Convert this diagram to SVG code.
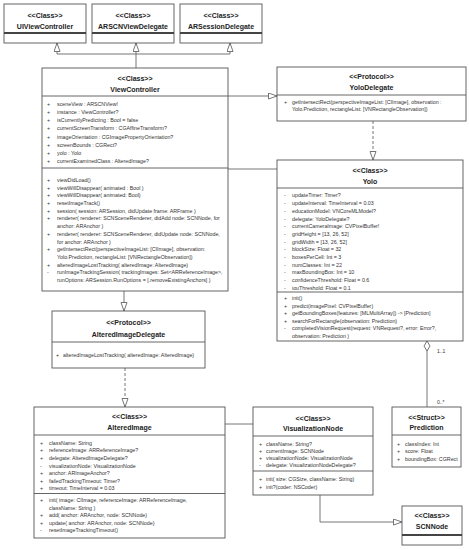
<svg xmlns="http://www.w3.org/2000/svg" width="469" height="550" viewBox="0 0 469 550">
<style>
.box{fill:#fff;stroke:#555;stroke-width:0.9}
.sep{stroke:#555;stroke-width:0.9}
.thick{stroke:#444;stroke-width:2}
.t{font-family:"Liberation Sans",Arial,sans-serif;font-size:7px;font-weight:bold;fill:#222;text-anchor:middle}
.b{font-family:"Liberation Sans",Arial,sans-serif;font-size:5.3px;fill:#333}
.lbl{font-family:"Liberation Sans",Arial,sans-serif;font-size:5px;fill:#333}
.c{fill:none;stroke:#666;stroke-width:0.9}
.d{stroke-dasharray:3 2}
</style>
<defs>
<marker id="tri" markerUnits="userSpaceOnUse" markerWidth="11" markerHeight="9" refX="9" refY="3.5" orient="auto"><path d="M0.5,0.5 L9,3.5 L0.5,6.5 z" fill="#fff" stroke="#666" stroke-width="0.9"/></marker>
<marker id="dia" markerUnits="userSpaceOnUse" markerWidth="13" markerHeight="8" refX="0.5" refY="3.5" orient="auto"><path d="M0.5,3.5 L5.5,0.5 L10.5,3.5 L5.5,6.5 z" fill="#fff" stroke="#666" stroke-width="0.9"/></marker>
</defs>

<g id="connectors">
<path class="c" d="M57,54 H230"/>
<path class="c" d="M136,68 V54"/>
<path class="c" d="M57,54 V43" marker-end="url(#tri)"/>
<path class="c" d="M136,54 V43" marker-end="url(#tri)"/>
<path class="c" d="M230,54 V43" marker-end="url(#tri)"/>
<path class="c" d="M228,96 H277" marker-end="url(#tri)"/>
<path class="c" d="M228,169 H277"/>
<path class="c d" d="M373,121 V160" marker-end="url(#tri)"/>
<path class="c" d="M124,291 V311" marker-end="url(#tri)"/>
<path class="c d" d="M125,368 V407" marker-end="url(#tri)"/>
<path class="c" d="M225,424 H253"/>
<path class="c" d="M427,341 V407" marker-start="url(#dia)"/>
<path class="c" d="M320,495 V522 H402" marker-end="url(#tri)"/>
<text class="lbl" x="437" y="353">1..1</text>
<text class="lbl" x="437" y="404">0..*</text>
</g>

<g id="UIViewController">
<rect class="box" x="4" y="4" width="82" height="39"/>
<line class="thick" x1="4" y1="33" x2="86" y2="33"/>
<text class="t" x="45" y="17.5">&lt;&lt;Class&gt;&gt;</text>
<text class="t" x="45" y="28.5">UIViewController</text>
</g>
<g id="ARSCNViewDelegate">
<rect class="box" x="92" y="4" width="82" height="39"/>
<line class="thick" x1="92" y1="33" x2="174" y2="33"/>
<text class="t" x="133" y="17.5">&lt;&lt;Class&gt;&gt;</text>
<text class="t" x="133" y="28.5">ARSCNViewDelegate</text>
</g>
<g id="ARSessionDelegate">
<rect class="box" x="180" y="4" width="82" height="39"/>
<line class="thick" x1="180" y1="33" x2="262" y2="33"/>
<text class="t" x="221" y="17.5">&lt;&lt;Class&gt;&gt;</text>
<text class="t" x="221" y="28.5">ARSessionDelegate</text>
</g>

<g id="ViewController">
<rect class="box" x="42" y="68" width="186" height="223"/>
<line class="sep" x1="42" y1="96" x2="228" y2="96"/>
<line class="sep" x1="42" y1="168" x2="228" y2="168"/>
<text class="t" x="135" y="80.5">&lt;&lt;Class&gt;&gt;</text>
<text class="t" x="135" y="91.5">ViewController</text>
<text class="b" x="47" y="106">+</text><text class="b" x="57" y="106">sceneView : ARSCNView!</text>
<text class="b" x="47" y="114.1">+</text><text class="b" x="57" y="114.1">instance : ViewController?</text>
<text class="b" x="47" y="122.2">+</text><text class="b" x="57" y="122.2">isCurrentlyPredicting : Bool = false</text>
<text class="b" x="47" y="130.3">+</text><text class="b" x="57" y="130.3">currentScreenTransform : CGAffineTransform?</text>
<text class="b" x="47" y="138.5">+</text><text class="b" x="57" y="138.5">imageOrientation : CGImagePropertyOrientation?</text>
<text class="b" x="47" y="146.6">+</text><text class="b" x="57" y="146.6">screenBounds : CGRect?</text>
<text class="b" x="47" y="154.8">+</text><text class="b" x="57" y="154.8">yolo : Yolo</text>
<text class="b" x="47" y="163">+</text><text class="b" x="57" y="163">currentExaminedClass : AlteredImage?</text>
<text class="b" x="47" y="181.9">+</text><text class="b" x="57" y="181.9">viewDidLoad()</text>
<text class="b" x="47" y="189.6">+</text><text class="b" x="57" y="189.6">viewWillDisappear( animated : Bool )</text>
<text class="b" x="47" y="197.3">+</text><text class="b" x="57" y="197.3">viewWillDisappear( animated: Bool)</text>
<text class="b" x="47" y="205">+</text><text class="b" x="57" y="205">resetImageTrack()</text>
<text class="b" x="47" y="212.7">+</text><text class="b" x="57" y="212.7">session( session: ARSession, didUpdate frame: ARFrame )</text>
<text class="b" x="47" y="220.4">+</text><text class="b" x="57" y="220.4">renderer( renderer: SCNSceneRenderer, didAdd node: SCNNode, for</text>
<text class="b" x="57" y="228.1">anchor: ARAnchor )</text>
<text class="b" x="47" y="235.8">+</text><text class="b" x="57" y="235.8">renderer( renderer: SCNSceneRenderer, didUpdate node: SCNNode,</text>
<text class="b" x="57" y="243.5">for anchor: ARAnchor )</text>
<text class="b" x="47" y="251.2">+</text><text class="b" x="57" y="251.2">getIntersectRect(perspectiveImageList: [CIImage], observation:</text>
<text class="b" x="57" y="258.9">Yolo.Prediction, rectangleList: [VNRectangleObservation])</text>
<text class="b" x="47" y="266.6">+</text><text class="b" x="57" y="266.6">alteredImageLostTracking( alteredImage: AlteredImage)</text>
<text class="b" x="47" y="274.3">-</text><text class="b" x="57" y="274.3">runImageTrackingSession( trackingImages: Set&lt;ARReferenceImage&gt;,</text>
<text class="b" x="57" y="282">runOptions:  ARSession.RunOptions = [.removeExistingAnchors] )</text>
</g>

<g id="YoloDelegate">
<rect class="box" x="277" y="67" width="189" height="54"/>
<line class="sep" x1="277" y1="95" x2="466" y2="95"/>
<text class="t" x="371.5" y="78.5">&lt;&lt;Protocol&gt;&gt;</text>
<text class="t" x="371.5" y="89.5">YoloDelegate</text>
<text class="b" x="284" y="104">+</text><text class="b" x="292" y="104">getIntersectRect(perspectiveImageList: [CIImage], observation :</text>
<text class="b" x="292" y="111.4">Yolo.Prediction, rectangleList: [VNRectangleObservation])</text>
</g>

<g id="Yolo">
<rect class="box" x="277" y="160" width="186" height="181"/>
<line class="sep" x1="277" y1="188" x2="463" y2="188"/>
<line class="sep" x1="277" y1="292" x2="463" y2="292"/>
<text class="t" x="370" y="172.5">&lt;&lt;Class&gt;&gt;</text>
<text class="t" x="370" y="183.5">Yolo</text>
<text class="b" x="284" y="197.4">-</text><text class="b" x="292" y="197.4">updateTimer: Timer?</text>
<text class="b" x="284" y="205.1">-</text><text class="b" x="292" y="205.1">updateInterval: TimeInterval = 0.03</text>
<text class="b" x="284" y="212.8">-</text><text class="b" x="292" y="212.8">educationModel: VNCoreMLModel?</text>
<text class="b" x="284" y="220.5">-</text><text class="b" x="292" y="220.5">delegate: YoloDelegate?</text>
<text class="b" x="284" y="228.2">-</text><text class="b" x="292" y="228.2">currentCameraImage: CVPixelBuffer!</text>
<text class="b" x="284" y="235.9">-</text><text class="b" x="292" y="235.9">gridHeight = [13, 26, 52]</text>
<text class="b" x="284" y="243.6">-</text><text class="b" x="292" y="243.6">gridWidth = [13, 26, 52]</text>
<text class="b" x="284" y="251.3">-</text><text class="b" x="292" y="251.3">blockSize: Float = 32</text>
<text class="b" x="284" y="259">-</text><text class="b" x="292" y="259">boxesPerCell: Int = 3</text>
<text class="b" x="284" y="266.7">-</text><text class="b" x="292" y="266.7">numClasses: Int = 22</text>
<text class="b" x="284" y="274.4">-</text><text class="b" x="292" y="274.4">maxBoundingBox: Int = 10</text>
<text class="b" x="284" y="282.1">-</text><text class="b" x="292" y="282.1">confidenceThreshold: Float = 0.6</text>
<text class="b" x="284" y="289.8">-</text><text class="b" x="292" y="289.8">iouThreshold: Float = 0.1</text>
<text class="b" x="284" y="300.4">+</text><text class="b" x="292" y="300.4">init()</text>
<text class="b" x="284" y="307.9">+</text><text class="b" x="292" y="307.9">predict(imagePixel: CVPixelBuffer)</text>
<text class="b" x="284" y="315.4">+</text><text class="b" x="292" y="315.4">getBoundingBoxes(features: [MLMultiArray]) -&gt; [Prediction]</text>
<text class="b" x="284" y="322.9">+</text><text class="b" x="292" y="322.9">searchForRectangle(observation: Prediction)</text>
<text class="b" x="284" y="330.4">-</text><text class="b" x="292" y="330.4">completedVisionRequest(request: VNRequest?, error: Error?,</text>
<text class="b" x="292" y="337.9">observation: Prediction )</text>
</g>

<g id="AlteredImageDelegate">
<rect class="box" x="52" y="311" width="153" height="57"/>
<line class="sep" x1="52" y1="342" x2="205" y2="342"/>
<text class="t" x="128.5" y="324.5">&lt;&lt;Protocol&gt;&gt;</text>
<text class="t" x="128.5" y="336.5">AlteredImageDelegate</text>
<text class="b" x="56" y="357">+</text><text class="b" x="63" y="357">alteredImageLostTracking( alteredImage: AlteredImage)</text>
</g>

<g id="AlteredImage">
<rect class="box" x="34" y="407" width="191" height="131"/>
<line class="sep" x1="34" y1="435" x2="225" y2="435"/>
<line class="sep" x1="34" y1="493.5" x2="225" y2="493.5"/>
<text class="t" x="129.5" y="418.5">&lt;&lt;Class&gt;&gt;</text>
<text class="t" x="129.5" y="429.5">AlteredImage</text>
<text class="b" x="40" y="444.9">+</text><text class="b" x="49" y="444.9">className: String</text>
<text class="b" x="40" y="452.4">+</text><text class="b" x="49" y="452.4">referenceImage: ARReferenceImage?</text>
<text class="b" x="40" y="460">+</text><text class="b" x="49" y="460">delegate: AlteredImageDelegate?</text>
<text class="b" x="40" y="467.5">-</text><text class="b" x="49" y="467.5">visualizationNode: VisualizationNode</text>
<text class="b" x="40" y="475.1">+</text><text class="b" x="49" y="475.1">anchor: ARImageAnchor?</text>
<text class="b" x="40" y="482.6">+</text><text class="b" x="49" y="482.6">failedTrackingTimeout: Timer?</text>
<text class="b" x="40" y="490.2">+</text><text class="b" x="49" y="490.2">timeout: TimeInterval = 0.03</text>
<text class="b" x="40" y="502.4">+</text><text class="b" x="49" y="502.4">init( image: CIImage, referenceImage: ARReferenceImage,</text>
<text class="b" x="49" y="509.9">className: String )</text>
<text class="b" x="40" y="517.4">+</text><text class="b" x="49" y="517.4">add( anchor: ARAnchor, node: SCNNode)</text>
<text class="b" x="40" y="524.9">+</text><text class="b" x="49" y="524.9">update( anchor: ARAnchor, node: SCNNode)</text>
<text class="b" x="40" y="532.4">-</text><text class="b" x="49" y="532.4">resetImageTrackingTimeout()</text>
</g>

<g id="VisualizationNode">
<rect class="box" x="253" y="407" width="120" height="88"/>
<line class="sep" x1="253" y1="436" x2="373" y2="436"/>
<line class="sep" x1="253" y1="471" x2="373" y2="471"/>
<text class="t" x="313" y="420.5">&lt;&lt;Class&gt;&gt;</text>
<text class="t" x="313" y="430.5">VisualizationNode</text>
<text class="b" x="259" y="445.9">+</text><text class="b" x="266" y="445.9">className: String?</text>
<text class="b" x="259" y="452.9">+</text><text class="b" x="266" y="452.9">currentImage: SCNNode</text>
<text class="b" x="259" y="459.9">+</text><text class="b" x="266" y="459.9">visualizationNode: VisualizationNode</text>
<text class="b" x="259" y="466.9">-</text><text class="b" x="266" y="466.9">delegate: VisualizationNodeDelegate?</text>
<text class="b" x="259" y="481.4">+</text><text class="b" x="266" y="481.4">init( size: CGSize, className: String)</text>
<text class="b" x="259" y="488.9">+</text><text class="b" x="266" y="488.9">init?(coder: NSCoder)</text>
</g>

<g id="Prediction">
<rect class="box" x="392" y="407" width="69" height="60"/>
<line class="sep" x1="392" y1="435" x2="461" y2="435"/>
<text class="t" x="426.5" y="419.5">&lt;&lt;Struct&gt;&gt;</text>
<text class="t" x="426.5" y="429.5">Prediction</text>
<text class="b" x="397" y="445.9">+</text><text class="b" x="405" y="445.9">classIndex: Int</text>
<text class="b" x="397" y="453.4">+</text><text class="b" x="405" y="453.4">score: Float</text>
<text class="b" x="397" y="460.9">+</text><text class="b" x="405" y="460.9">boundingBox: CGRect</text>
</g>

<g id="SCNNode">
<rect class="box" x="402" y="506" width="60" height="39"/>
<line class="thick" x1="402" y1="535" x2="462" y2="535"/>
<text class="t" x="432" y="517.5">&lt;&lt;Class&gt;&gt;</text>
<text class="t" x="432" y="528.5">SCNNode</text>
</g>
</svg>
